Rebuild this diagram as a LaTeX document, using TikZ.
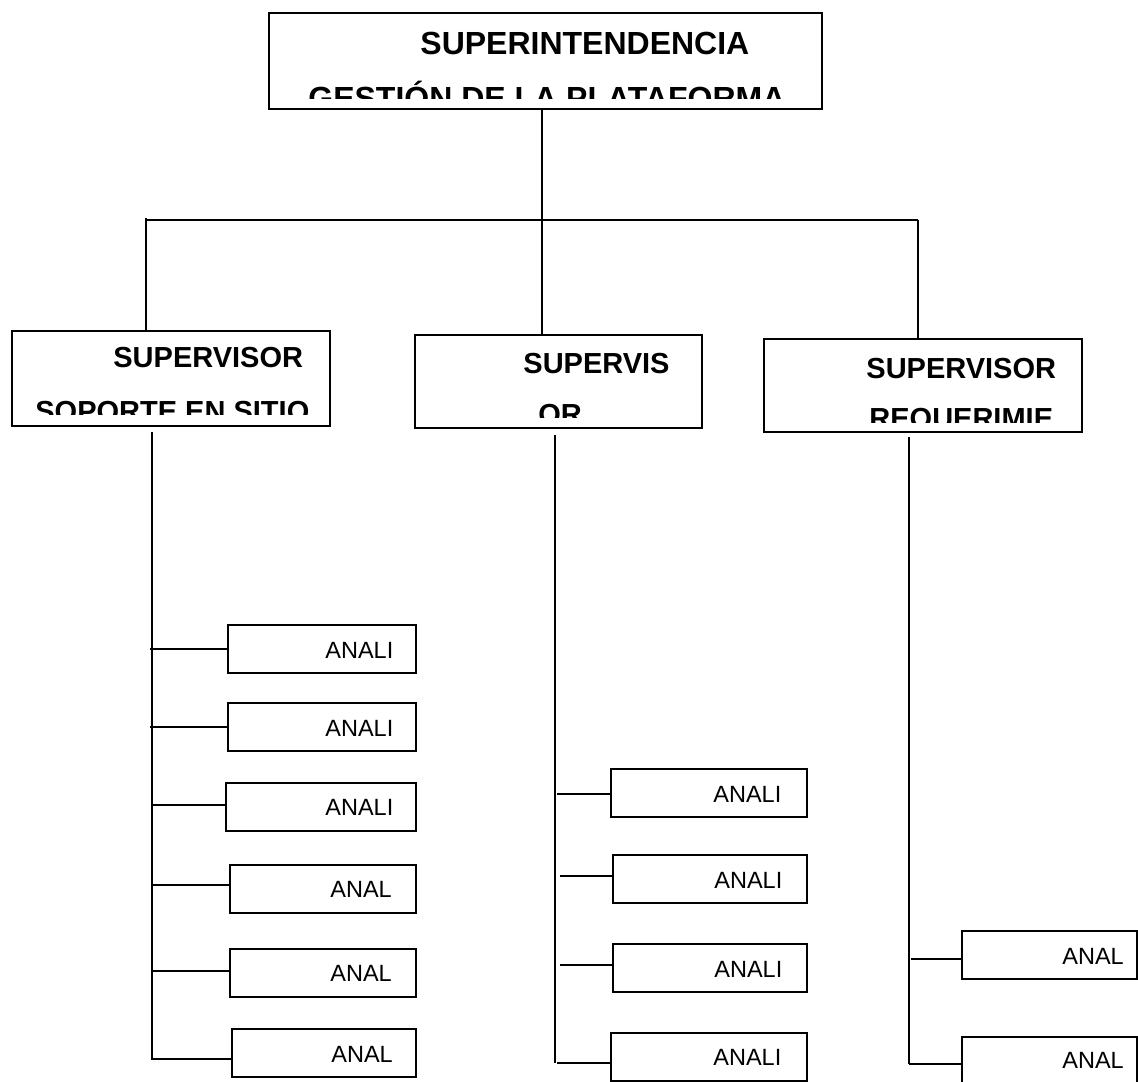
\documentclass[tikz,border=0pt]{standalone}
\usepackage{fontspec}
\setmainfont{Liberation Sans}
\usetikzlibrary{fit}
\begin{document}
\begin{tikzpicture}[x=0.5pt,y=-0.5pt,
  box/.style={draw, line width=1pt, inner sep=0pt},
  conn/.style={line width=0.8pt},
  bigtxt/.style={font=\fontsize{16}{16}\selectfont\bfseries, inner sep=0pt, anchor=base west},
  suptxt/.style={font=\fontsize{14.5}{14.5}\selectfont\bfseries, inner sep=0pt, anchor=base west},
  anatxt/.style={font=\fontsize{11.75}{11.75}\selectfont, inner sep=0pt, anchor=base west}]
\useasboundingbox (0,0) rectangle (1138,1081);
\fill[white] (0,0) rectangle (1138,1081);

% ---------- top box ----------
\node[box, fit={(269,13)(822,109)}] (top) {};
\node[bigtxt] (toptxt1) at (420,55) {SUPERINTENDENCIA};
\begin{scope}
  \clip (270,14) rectangle (821,99);
  \node[bigtxt] (toptxt2) at (308,110) {GESTIÓN DE LA PLATAFORMA};
\end{scope}

% ---------- supervisor boxes ----------
\node[box, fit={(12,331)(330,426)}] (s1) {};
\node[suptxt] (s1t1) at (113,367) {SUPERVISOR};
\begin{scope}
  \clip (13,332) rectangle (329,414);
  \node[suptxt] (s1t2) at (35,421) {SOPORTE EN SITIO};
\end{scope}

\node[box, fit={(415,335)(702,428)}] (s2) {};
\node[suptxt] (s2t1) at (523,373) {SUPERVIS};
\begin{scope}
  \clip (416,336) rectangle (701,417);
  \node[suptxt] (s2t2) at (538,424) {OR};
\end{scope}

\node[box, fit={(764,339)(1082,432)}] (s3) {};
\node[suptxt] (s3t1) at (866,378) {SUPERVISOR};
\begin{scope}
  \clip (765,340) rectangle (1081,422);
  \node[suptxt] (s3t2) at (869,428) {REQUERIMIE};
\end{scope}

% ---------- upper connectors ----------
\coordinate (hl) at (146,220);
\coordinate (hr) at (918,220);
\coordinate (hc) at (542,220);
\draw[conn] (top.south -| hc) -- (hc);
\draw[conn] (hl) -- (hr);
\draw[conn] (146,218) -- (s1.north -| hl);
\draw[conn] (hc) -- (s2.north -| hc);
\draw[conn] (hr) -- (s3.north -| hr);

% ---------- column 1 ----------
\node[box, fit={(228,625)(416,673)}] (c1a) {};
\node[anatxt] (c1at) at (325,658) {ANALI};
\node[box, fit={(228,703)(416,751)}] (c1b) {};
\node[anatxt] (c1bt) at (325,736) {ANALI};
\node[box, fit={(226,783)(416,831)}] (c1c) {};
\node[anatxt] (c1ct) at (325,815) {ANALI};
\node[box, fit={(230,865)(416,913)}] (c1d) {};
\node[anatxt] (c1dt) at (330,897) {ANAL};
\node[box, fit={(230,949)(416,997)}] (c1e) {};
\node[anatxt] (c1et) at (330,981) {ANAL};
\node[box, fit={(232,1029)(416,1077)}] (c1f) {};
\node[anatxt] (c1ft) at (331,1062) {ANAL};

\coordinate (v1a) at (152,432);
\coordinate (v1b) at (152,1060);
\draw[conn] (v1a) -- (v1b);
\draw[conn] (150,649) -- (c1a.west |- 0,649);
\draw[conn] (150,727) -- (c1b.west |- 0,727);
\draw[conn] (152,805) -- (c1c.west |- 0,805);
\draw[conn] (152,885) -- (c1d.west |- 0,885);
\draw[conn] (152,971) -- (c1e.west |- 0,971);
\draw[conn] (152,1059) -- (c1f.west |- 0,1059);

% ---------- column 2 ----------
\node[box, fit={(611,769)(807,817)}] (c2a) {};
\node[anatxt] (c2at) at (713,802) {ANALI};
\node[box, fit={(613,855)(807,903)}] (c2b) {};
\node[anatxt] (c2bt) at (714,888) {ANALI};
\node[box, fit={(613,944)(807,992)}] (c2c) {};
\node[anatxt] (c2ct) at (714,977) {ANALI};
\node[box, fit={(611,1033)(807,1081)}] (c2d) {};
\node[anatxt] (c2dt) at (713,1065) {ANALI};

\coordinate (v2a) at (555,435);
\coordinate (v2b) at (555,1063);
\draw[conn] (v2a) -- (v2b);
\draw[conn] (557,794) -- (c2a.west |- 0,794);
\draw[conn] (560,876) -- (c2b.west |- 0,876);
\draw[conn] (560,965) -- (c2c.west |- 0,965);
\draw[conn] (557,1063) -- (c2d.west |- 0,1063);

% ---------- column 3 ----------
\node[box, fit={(962,931)(1137,979)}] (c3a) {};
\node[anatxt] (c3at) at (1062,964) {ANAL};
\node[box, fit={(962,1037)(1137,1100)}] (c3b) {};
\node[anatxt] (c3bt) at (1062,1068) {ANAL};

\coordinate (v3a) at (909,437);
\coordinate (v3b) at (909,1064);
\draw[conn] (v3a) -- (v3b);
\draw[conn] (911,959) -- (c3a.west |- 0,959);
\draw[conn] (909,1064) -- (c3b.west |- 0,1064);
\end{tikzpicture}
\end{document}
